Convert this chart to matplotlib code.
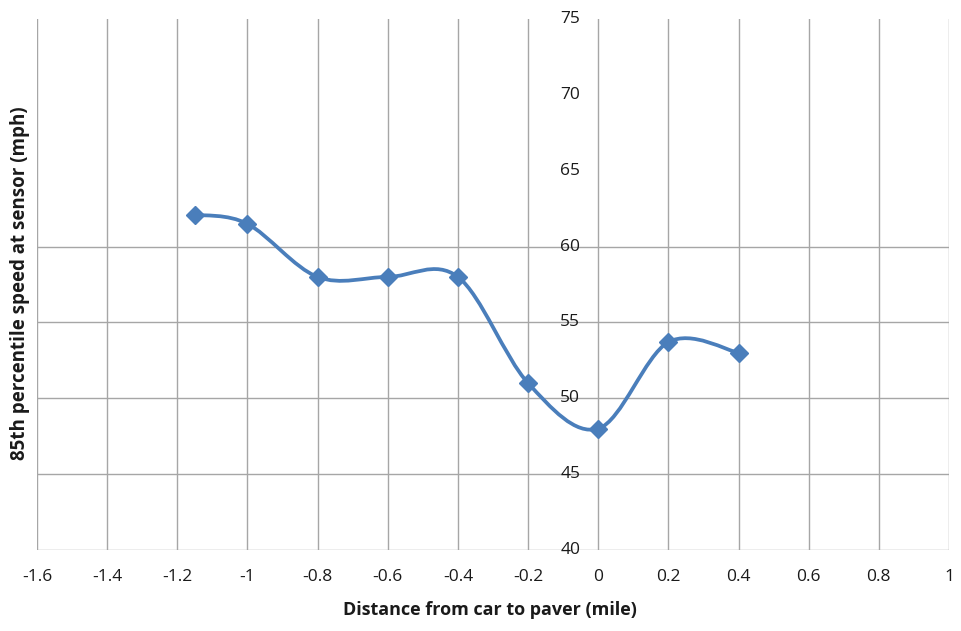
import numpy as np
import matplotlib
matplotlib.use("Agg")
import matplotlib.pyplot as plt
from matplotlib.path import Path
from matplotlib.patches import PathPatch

# Data
distance = [-1.15, -1.0, -0.8, -0.6, -0.4, -0.2, 0.0, 0.2, 0.4]
speed = [62.1, 61.5, 58.0, 58.0, 58.0, 51.0, 48.0, 53.7, 53.0]

x_ticks = [-1.6, -1.4, -1.2, -1.0, -0.8, -0.6, -0.4, -0.2, 0.0, 0.2, 0.4, 0.6, 0.8, 1.0]
x_tick_labels = ["-1.6", "-1.4", "-1.2", "-1", "-0.8", "-0.6", "-0.4", "-0.2", "0",
                 "0.2", "0.4", "0.6", "0.8", "1"]
y_ticks = [40, 45, 50, 55, 60, 65, 70, 75]
y_grid = [40, 45, 50, 55, 60]

plt.rcParams['font.family'] = ['Open Sans', 'DejaVu Sans']

fig = plt.figure(figsize=(9.61, 6.31), dpi=100)
ax = fig.add_axes([37/961, 1 - 550/631, (949 - 37)/961, (550 - 19)/631])
ax.set_xlim(-1.6, 1.0)
ax.set_ylim(40, 75)

grid_color = "#a6a6a6"
for xv in x_ticks:
    ax.axvline(xv, color=grid_color, lw=1.0, zorder=1)
for yv in y_grid:
    ax.axhline(yv, color=grid_color, lw=1.0, zorder=1)

for s in ax.spines.values():
    s.set_visible(False)

# Smoothed line (Catmull-Rom style Bezier, like Excel smoothing)
pts = np.column_stack([distance, speed])
n = len(pts)
verts = [tuple(pts[0])]
codes = [Path.MOVETO]
for i in range(n - 1):
    p0 = pts[i - 1] if i > 0 else pts[i]
    p1 = pts[i]
    p2 = pts[i + 1]
    p3 = pts[i + 2] if i + 2 < n else pts[i + 1]
    c1 = p1 + (p2 - p0) / 6.0
    c2 = p2 - (p3 - p1) / 6.0
    verts += [tuple(c1), tuple(c2), tuple(p2)]
    codes += [Path.CURVE4] * 3
line_color = "#4a7ebb"
ax.add_patch(PathPatch(Path(verts, codes), facecolor="none", edgecolor=line_color,
                       lw=2.7, zorder=3, capstyle="round", joinstyle="round"))
ax.plot(distance, speed, linestyle="none", marker="D", markersize=9.5,
        color=line_color, zorder=4)

ax.set_xticks(x_ticks)
ax.set_xticklabels(x_tick_labels, fontsize=12.5, color="#1a1a1a")
ax.tick_params(axis="x", length=0, pad=14)
ax.set_yticks([])

# Y tick labels next to the zero line
for yv in y_ticks:
    ax.annotate(str(yv), xy=(0, yv), xycoords="data", xytext=(-18, 0),
                textcoords="offset pixels", ha="right", va="center",
                fontsize=12.5, color="#1a1a1a", zorder=2)

fig.text(490/961, 1 - 610/631, "Distance from car to paver (mile)", ha="center",
         va="center", fontsize=13, fontweight="bold", color="#1a1a1a")
fig.text(20/961, 1 - 283/631, "85th percentile speed at sensor (mph)", ha="center",
         va="center", rotation=90, fontsize=13.5, fontweight="bold", color="#1a1a1a")

fig.savefig("out.png", dpi=100)
